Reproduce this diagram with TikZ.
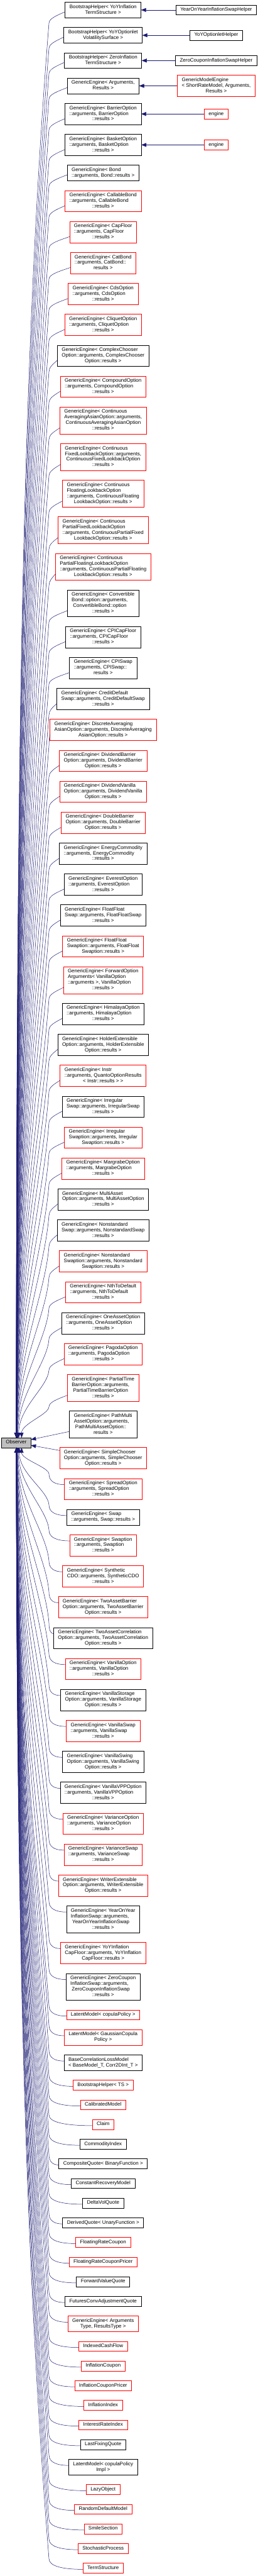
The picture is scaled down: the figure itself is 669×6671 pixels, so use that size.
\documentclass[tikz,border=0pt]{standalone}
\usepackage{fontspec}
\setmainfont{Liberation Sans}
\usetikzlibrary{positioning,calc,arrows.meta}
\definecolor{edgeblue}{RGB}{25,25,112}
\definecolor{nodered}{RGB}{255,0,0}
\definecolor{obsgray}{RGB}{191,191,191}
\newcommand\ml[2]{\begin{tabular}{@{}l@{}}#1\\\multicolumn{1}{@{}c@{}}{#2}\end{tabular}}
\newcommand\sline[1]{\begin{tabular}{@{}c@{}}#1\end{tabular}}
\newcommand\vg{25.2pt}
\tikzset{
  nbox/.style={draw, rectangle, fill=white, inner xsep=11.5pt, inner ysep=0pt, outer sep=0pt, line width=0.9pt,
    font=\fontsize{13}{14.6}\selectfont},
  kbox/.style={nbox, draw=black},
  rbox/.style={nbox, draw=nodered},
  obsbox/.style={nbox, draw=black, fill=obsgray, minimum height=25.7pt},
  h1/.style={minimum height=25.7pt},
  h2/.style={minimum height=40.3pt},
  h3/.style={minimum height=54.9pt},
  h4/.style={minimum height=69.5pt},
  inh/.style={draw=edgeblue, line width=0.8pt, -{Triangle[length=13pt,width=10pt]}},
}
\newcommand\upedge[1]{%
  \draw[inh] let \p1=($(#1.south west)+(0,15.5)$), \p2=(obs.north),
    \n1={\y1-30-\y2}, \n2={42+min(14,1150/\n1)} in
    (\p1) .. controls ({\x1-0.55*(\x1-127)},{\y1-10}) and (127,{\y1-18}) .. (127,{\y1-30})
    .. controls ({127-0.02*\n1},{\y1-30-0.25*\n1}) and (\n2,{\y2+0.45*\n1}) .. (\n2,\y2);}
\newcommand\downedge[1]{%
  \draw[inh] let \p1=($(#1.north west)+(0,-15.85)$), \p2=(obs.south),
    \n1={\y2-\y1-28}, \n2={42+min(14,1150/\n1)} in
    (\p1) .. controls ({127+0.4*(\x1-127)},\y1) and (127,{\y1+8}) .. (127,{\y1+28})
    .. controls ({127-0.02*\n1},{\y1+28+0.25*\n1}) and (\n2,{\y2-0.45*\n1}) .. (\n2,\y2);}
\begin{document}
\begin{tikzpicture}[x=1pt,y=1pt]
\useasboundingbox (0,0) rectangle (669,-6671);
\coordinate (rx) at (561,0);
% middle column
\node[kbox,h2,anchor=north] (n1) at (267.5,-5.7) {\ml{BootstrapHelper< YoYInflation}{TermStructure >}};
\node[kbox,h2,below=\vg of n1] (n2) {\ml{BootstrapHelper< YoYOptionlet}{VolatilitySurface >}};
\node[kbox,h2,below=\vg of n2] (n3) {\ml{BootstrapHelper< ZeroInflation}{TermStructure >}};
\node[kbox,h2,below=\vg of n3] (n4) {\ml{GenericEngine< Arguments,}{Results >}};
\node[kbox,h3,below=\vg of n4] (n5) {\ml{GenericEngine< BarrierOption\\::arguments, BarrierOption}{::results >}};
\node[kbox,h3,below=\vg of n5] (n6) {\ml{GenericEngine< BasketOption\\::arguments, BasketOption}{::results >}};
\node[kbox,h2,below=\vg of n6] (n7) {\ml{GenericEngine< Bond}{::arguments, Bond::results >}};
\node[rbox,h3,below=\vg of n7] (n8) {\ml{GenericEngine< CallableBond\\::arguments, CallableBond}{::results >}};
\node[rbox,h3,below=\vg of n8] (n9) {\ml{GenericEngine< CapFloor\\::arguments, CapFloor}{::results >}};
\node[rbox,h3,below=\vg of n9] (n10) {\ml{GenericEngine< CatBond\\::arguments, CatBond::}{results >}};
\node[rbox,h3,below=\vg of n10] (n11) {\ml{GenericEngine< CdsOption\\::arguments, CdsOption}{::results >}};
\node[rbox,h3,below=\vg of n11] (n12) {\ml{GenericEngine< CliquetOption\\::arguments, CliquetOption}{::results >}};
\node[kbox,h3,below=\vg of n12] (n13) {\ml{GenericEngine< ComplexChooser\\Option::arguments, ComplexChooser}{Option::results >}};
\node[rbox,h3,below=\vg of n13] (n14) {\ml{GenericEngine< CompoundOption\\::arguments, CompoundOption}{::results >}};
\node[rbox,h4,below=\vg of n14] (n15) {\ml{GenericEngine< Continuous\\AveragingAsianOption::arguments,\\\ ContinuousAveragingAsianOption}{::results >}};
\node[rbox,h4,below=\vg of n15] (n16) {\ml{GenericEngine< Continuous\\FixedLookbackOption::arguments,\\\ ContinuousFixedLookbackOption}{::results >}};
\node[rbox,h4,below=\vg of n16] (n17) {\ml{GenericEngine< Continuous\\FloatingLookbackOption\\::arguments, ContinuousFloating}{LookbackOption::results >}};
\node[rbox,h4,below=\vg of n17] (n18) {\ml{GenericEngine< Continuous\\PartialFixedLookbackOption\\::arguments, ContinuousPartialFixed}{LookbackOption::results >}};
\node[rbox,h4,below=\vg of n18] (n19) {\ml{GenericEngine< Continuous\\PartialFloatingLookbackOption\\::arguments, ContinuousPartialFloating}{LookbackOption::results >}};
\node[kbox,h4,below=\vg of n19] (n20) {\ml{GenericEngine< Convertible\\Bond::option::arguments,\\\ ConvertibleBond::option}{::results >}};
\node[kbox,h3,below=\vg of n20] (n21) {\ml{GenericEngine< CPICapFloor\\::arguments, CPICapFloor}{::results >}};
\node[kbox,h3,below=\vg of n21] (n22) {\ml{GenericEngine< CPISwap\\::arguments, CPISwap::}{results >}};
\node[kbox,h3,below=\vg of n22] (n23) {\ml{GenericEngine< CreditDefault\\Swap::arguments, CreditDefaultSwap}{::results >}};
\node[rbox,h3,below=\vg of n23] (n24) {\ml{GenericEngine< DiscreteAveraging\\AsianOption::arguments, DiscreteAveraging}{AsianOption::results >}};
\node[rbox,h3,below=\vg of n24] (n25) {\ml{GenericEngine< DividendBarrier\\Option::arguments, DividendBarrier}{Option::results >}};
\node[rbox,h3,below=\vg of n25] (n26) {\ml{GenericEngine< DividendVanilla\\Option::arguments, DividendVanilla}{Option::results >}};
\node[rbox,h3,below=\vg of n26] (n27) {\ml{GenericEngine< DoubleBarrier\\Option::arguments, DoubleBarrier}{Option::results >}};
\node[kbox,h3,below=\vg of n27] (n28) {\ml{GenericEngine< EnergyCommodity\\::arguments, EnergyCommodity}{::results >}};
\node[kbox,h3,below=\vg of n28] (n29) {\ml{GenericEngine< EverestOption\\::arguments, EverestOption}{::results >}};
\node[kbox,h3,below=\vg of n29] (n30) {\ml{GenericEngine< FloatFloat\\Swap::arguments, FloatFloatSwap}{::results >}};
\node[rbox,h3,below=\vg of n30] (n31) {\ml{GenericEngine< FloatFloat\\Swaption::arguments, FloatFloat}{Swaption::results >}};
\node[rbox,h4,below=\vg of n31] (n32) {\ml{GenericEngine< ForwardOption\\Arguments< VanillaOption\\::arguments >, VanillaOption}{::results >}};
\node[kbox,h3,below=\vg of n32] (n33) {\ml{GenericEngine< HimalayaOption\\::arguments, HimalayaOption}{::results >}};
\node[kbox,h3,below=\vg of n33] (n34) {\ml{GenericEngine< HolderExtensible\\Option::arguments, HolderExtensible}{Option::results >}};
\node[rbox,h3,below=\vg of n34] (n35) {\ml{GenericEngine< Instr\\::arguments, QuantoOptionResults}{< Instr::results > >}};
\node[kbox,h3,below=\vg of n35] (n36) {\ml{GenericEngine< Irregular\\Swap::arguments, IrregularSwap}{::results >}};
\node[rbox,h3,below=\vg of n36] (n37) {\ml{GenericEngine< Irregular\\Swaption::arguments, Irregular}{Swaption::results >}};
\node[rbox,h3,below=\vg of n37] (n38) {\ml{GenericEngine< MargrabeOption\\::arguments, MargrabeOption}{::results >}};
\node[kbox,h3,below=\vg of n38] (n39) {\ml{GenericEngine< MultiAsset\\Option::arguments, MultiAssetOption}{::results >}};
\node[kbox,h3,below=\vg of n39] (n40) {\ml{GenericEngine< Nonstandard\\Swap::arguments, NonstandardSwap}{::results >}};
\node[rbox,h3,below=\vg of n40] (n41) {\ml{GenericEngine< Nonstandard\\Swaption::arguments, Nonstandard}{Swaption::results >}};
\node[rbox,h3,below=\vg of n41] (n42) {\ml{GenericEngine< NthToDefault\\::arguments, NthToDefault}{::results >}};
\node[kbox,h3,below=\vg of n42] (n43) {\ml{GenericEngine< OneAssetOption\\::arguments, OneAssetOption}{::results >}};
\node[rbox,h3,below=\vg of n43] (n44) {\ml{GenericEngine< PagodaOption\\::arguments, PagodaOption}{::results >}};
\node[rbox,h4,below=\vg of n44] (n45) {\ml{GenericEngine< PartialTime\\BarrierOption::arguments,\\\ PartialTimeBarrierOption}{::results >}};
\node[kbox,h4,below=\vg of n45] (n46) {\ml{GenericEngine< PathMulti\\AssetOption::arguments,\\\ PathMultiAssetOption::}{results >}};
\node[rbox,h3,below=\vg of n46] (n47) {\ml{GenericEngine< SimpleChooser\\Option::arguments, SimpleChooser}{Option::results >}};
\node[rbox,h3,below=\vg of n47] (n48) {\ml{GenericEngine< SpreadOption\\::arguments, SpreadOption}{::results >}};
\node[kbox,h2,below=\vg of n48] (n49) {\ml{GenericEngine< Swap}{::arguments, Swap::results >}};
\node[rbox,h3,below=\vg of n49] (n50) {\ml{GenericEngine< Swaption\\::arguments, Swaption}{::results >}};
\node[rbox,h3,below=\vg of n50] (n51) {\ml{GenericEngine< Synthetic\\CDO::arguments, SyntheticCDO}{::results >}};
\node[rbox,h3,below=\vg of n51] (n52) {\ml{GenericEngine< TwoAssetBarrier\\Option::arguments, TwoAssetBarrier}{Option::results >}};
\node[kbox,h3,below=\vg of n52] (n53) {\ml{GenericEngine< TwoAssetCorrelation\\Option::arguments, TwoAssetCorrelation}{Option::results >}};
\node[rbox,h3,below=\vg of n53] (n54) {\ml{GenericEngine< VanillaOption\\::arguments, VanillaOption}{::results >}};
\node[kbox,h3,below=\vg of n54] (n55) {\ml{GenericEngine< VanillaStorage\\Option::arguments, VanillaStorage}{Option::results >}};
\node[rbox,h3,below=\vg of n55] (n56) {\ml{GenericEngine< VanillaSwap\\::arguments, VanillaSwap}{::results >}};
\node[kbox,h3,below=\vg of n56] (n57) {\ml{GenericEngine< VanillaSwing\\Option::arguments, VanillaSwing}{Option::results >}};
\node[kbox,h3,below=\vg of n57] (n58) {\ml{GenericEngine< VanillaVPPOption\\::arguments, VanillaVPPOption}{::results >}};
\node[rbox,h3,below=\vg of n58] (n59) {\ml{GenericEngine< VarianceOption\\::arguments, VarianceOption}{::results >}};
\node[rbox,h3,below=\vg of n59] (n60) {\ml{GenericEngine< VarianceSwap\\::arguments, VarianceSwap}{::results >}};
\node[rbox,h3,below=\vg of n60] (n61) {\ml{GenericEngine< WriterExtensible\\Option::arguments, WriterExtensible}{Option::results >}};
\node[kbox,h4,below=\vg of n61] (n62) {\ml{GenericEngine< YearOnYear\\InflationSwap::arguments,\\\ YearOnYearInflationSwap}{::results >}};
\node[rbox,h3,below=\vg of n62] (n63) {\ml{GenericEngine< YoYInflation\\CapFloor::arguments, YoYInflation}{CapFloor::results >}};
\node[kbox,h4,below=\vg of n63] (n64) {\ml{GenericEngine< ZeroCoupon\\InflationSwap::arguments,\\\ ZeroCouponInflationSwap}{::results >}};
\node[rbox,h1,below=\vg of n64] (n65) {\sline{LatentModel< copulaPolicy >}};
\node[rbox,h2,below=\vg of n65] (n66) {\ml{LatentModel< GaussianCopula}{Policy >}};
\node[kbox,h2,below=\vg of n66] (n67) {\ml{BaseCorrelationLossModel}{< BaseModel\_T, Corr2DInt\_T >}};
\node[rbox,h1,below=\vg of n67] (n68) {\sline{BootstrapHelper< TS >}};
\node[rbox,h1,below=\vg of n68] (n69) {\sline{CalibratedModel}};
\node[rbox,h1,below=\vg of n69] (n70) {\sline{Claim}};
\node[kbox,h1,below=\vg of n70] (n71) {\sline{CommodityIndex}};
\node[kbox,h1,below=\vg of n71] (n72) {\sline{CompositeQuote< BinaryFunction >}};
\node[kbox,h1,below=\vg of n72] (n73) {\sline{ConstantRecoveryModel}};
\node[kbox,h1,below=\vg of n73] (n74) {\sline{DeltaVolQuote}};
\node[kbox,h1,below=\vg of n74] (n75) {\sline{DerivedQuote< UnaryFunction >}};
\node[rbox,h1,below=\vg of n75] (n76) {\sline{FloatingRateCoupon}};
\node[rbox,h1,below=\vg of n76] (n77) {\sline{FloatingRateCouponPricer}};
\node[kbox,h1,below=\vg of n77] (n78) {\sline{ForwardValueQuote}};
\node[kbox,h1,below=\vg of n78] (n79) {\sline{FuturesConvAdjustmentQuote}};
\node[rbox,h2,below=\vg of n79] (n80) {\ml{GenericEngine< Arguments}{Type, ResultsType >}};
\node[rbox,h1,below=\vg of n80] (n81) {\sline{IndexedCashFlow}};
\node[rbox,h1,below=\vg of n81] (n82) {\sline{InflationCoupon}};
\node[rbox,h1,below=\vg of n82] (n83) {\sline{InflationCouponPricer}};
\node[rbox,h1,below=\vg of n83] (n84) {\sline{InflationIndex}};
\node[rbox,h1,below=\vg of n84] (n85) {\sline{InterestRateIndex}};
\node[kbox,h1,below=\vg of n85] (n86) {\sline{LastFixingQuote}};
\node[kbox,h2,below=\vg of n86] (n87) {\ml{LatentModel< copulaPolicy}{Impl >}};
\node[rbox,h1,below=\vg of n87] (n88) {\sline{LazyObject}};
\node[rbox,h1,below=\vg of n88] (n89) {\sline{RandomDefaultModel}};
\node[rbox,h1,below=\vg of n89] (n90) {\sline{SmileSection}};
\node[rbox,h1,below=\vg of n90] (n91) {\sline{StochasticProcess}};
\node[rbox,h1,below=\vg of n91] (n92) {\sline{TermStructure}};
% right column
\node[kbox,h1] (r1) at (n1 -| rx) {\sline{YearOnYearInflationSwapHelper}};
\node[kbox,h1] (r2) at (n2 -| rx) {\sline{YoYOptionletHelper}};
\node[kbox,h1] (r3) at (n3 -| rx) {\sline{ZeroCouponInflationSwapHelper}};
\node[rbox,h3] (r4) at (n4 -| rx) {\ml{GenericModelEngine\\< ShortRateModel, Arguments,}{Results >}};
\node[rbox,h1] (r5) at (n5 -| rx) {\sline{engine}};
\node[rbox,h1] (r6) at (n6 -| rx) {\sline{engine}};
% base class
\node[obsbox] (obs) at ($(n46.south)!0.5!(n47.north)+(-225.5,0)$) {\sline{Observer}};
% connectors
\foreach \k in {1,...,6} {\draw[inh] (r\k) -- (n\k);}
\foreach \k in {1,...,45} {\upedge{n\k}}
\draw[inh] (n46) -- (obs);
\draw[inh] (n47) -- (obs);
\foreach \k in {48,...,92} {\downedge{n\k}}
\end{tikzpicture}
\end{document}
